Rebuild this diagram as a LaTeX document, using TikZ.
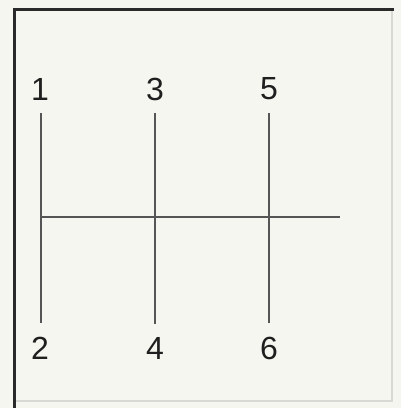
\documentclass[tikz,border=0pt]{standalone}
\usepackage{fontspec}
\setmainfont{Liberation Sans}
\definecolor{bg}{HTML}{F6F6F0}
\definecolor{ln}{HTML}{555555}
\definecolor{fr}{HTML}{2A2A2A}
\definecolor{frl}{HTML}{D8D8D4}
\tikzset{
  gear/.style={font=\fontsize{32}{32}\selectfont, text=black!88, inner sep=0pt, anchor=center},
  rod/.style={draw=ln, line width=2pt},
}
\begin{document}
\begin{tikzpicture}[x=1pt,y=-1pt]
\fill[bg] (0,0) rectangle (401,408);
\useasboundingbox (0,0) rectangle (401,408);
% frame
\draw[frl, line width=1.2pt] (392,9) -- (392,401) -- (14,401);
\draw[fr, line width=3pt] (14,408) -- (14,9) -- (394,9);
% labels
\node[gear] (g1) at (40,89) {1};
\node[gear] (g3) at (155,89) {3};
\node[gear] (g5) at (269,89) {5};
\node[gear] (g2) at (40,348) {2};
\node[gear] (g4) at (155,348) {4};
\node[gear] (g6) at (269,348) {6};
% rods
\coordinate (a1) at (41,113); \coordinate (b1) at (41,323);
\coordinate (a3) at (155,113); \coordinate (b3) at (155,324);
\coordinate (a5) at (269,113); \coordinate (b5) at (269,323);
\coordinate (hl) at (41,217); \coordinate (hr) at (340,217);
\draw[rod] (a1) -- (b1);
\draw[rod] (a3) -- (b3);
\draw[rod] (a5) -- (b5);
\draw[rod] (hl) -- (hr);
\end{tikzpicture}
\end{document}
